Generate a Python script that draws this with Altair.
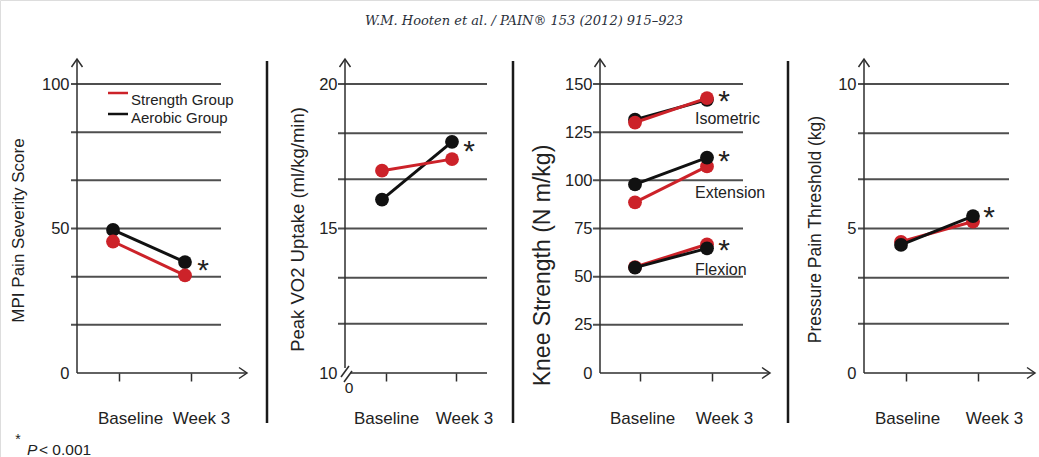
import altair as alt
import pandas as pd

# ---------------- data ----------------
times = ["Baseline", "Week 3"]
groups = ["Strength Group", "Aerobic Group"]
group_colors = ["#cc2229", "#111111"]

mpi_strength = [45.5, 33.8]
mpi_aerobic = [49.5, 38.4]

vo2_strength = [17.0, 17.4]
vo2_aerobic = [16.0, 18.0]

knee_measures = ["Isometric", "Extension", "Flexion"]
knee_iso_strength = [130.0, 142.7]
knee_iso_aerobic = [131.5, 141.8]
knee_ext_strength = [88.6, 107.2]
knee_ext_aerobic = [97.9, 111.8]
knee_flex_strength = [55.0, 66.8]
knee_flex_aerobic = [54.7, 64.7]

ppt_strength = [4.54, 5.24]
ppt_aerobic = [4.43, 5.43]

mpi_labels = [0, 50, 100]
mpi_grid = [16.7, 33.3, 50, 66.7, 83.3, 100]
vo2_labels = [10, 15, 20]
vo2_grid = [11.7, 13.3, 15, 16.7, 18.3, 20]
knee_labels = [0, 25, 50, 75, 100, 125, 150]
knee_grid = [25, 50, 75, 100, 125, 150]
ppt_labels = [0, 5, 10]
ppt_grid = [1.7, 3.3, 5, 6.7, 8.3, 10]

titles = ["MPI Pain Severity Score", "Peak VO2 Uptake (ml/kg/min)",
          "Knee Strength (N m/kg)", "Pressure Pain Threshold (kg)"]
header = "W.M. Hooten et al. / PAIN\u00ae 153 (2012) 915\u2013923"
footnote_p = "P"
footnote_rest = "< 0.001"

# ---------------- build long table ----------------
series = [
    ("mpi", "", "Strength Group", mpi_strength),
    ("mpi", "", "Aerobic Group", mpi_aerobic),
    ("vo2", "", "Strength Group", vo2_strength),
    ("vo2", "", "Aerobic Group", vo2_aerobic),
    ("knee", "Isometric", "Strength Group", knee_iso_strength),
    ("knee", "Isometric", "Aerobic Group", knee_iso_aerobic),
    ("knee", "Extension", "Strength Group", knee_ext_strength),
    ("knee", "Extension", "Aerobic Group", knee_ext_aerobic),
    ("knee", "Flexion", "Strength Group", knee_flex_strength),
    ("knee", "Flexion", "Aerobic Group", knee_flex_aerobic),
    ("ppt", "", "Strength Group", ppt_strength),
    ("ppt", "", "Aerobic Group", ppt_aerobic),
]
# which group is drawn on top
on_top = {("mpi", ""): "Strength Group", ("vo2", ""): "Strength Group",
          ("knee", "Isometric"): "Strength Group", ("knee", "Extension"): "Aerobic Group",
          ("knee", "Flexion"): "Aerobic Group", ("ppt", ""): "Aerobic Group"}
rows = []
for panel, measure, grp, vals in series:
    for t, v in zip(times, vals):
        rows.append(dict(panel=panel, measure=measure, group=grp, time=t, value=v,
                         z=1 if on_top[(panel, measure)] == grp else 0))
df = pd.DataFrame(rows)

# ---------------- layout ----------------
W, H = 1039, 457
Y0, YTOP, YARROW = 373, 84, 59
AX = "#2e2e2e"
GRID = "#4f4f4f"
TXT = "#222222"
FONT = "Liberation Sans"

panels = [
    dict(key="mpi", domain=[0, 100], labels=mpi_labels, grid=mpi_grid, title=titles[0],
         ax=77, gs=71, ge=221, pts=[113, 185], toff=6, loff=[11, 10],
         tx=-59, ty=230, tfs=17),
    dict(key="vo2", domain=[10, 20], labels=vo2_labels, grid=vo2_grid, title=titles[1],
         ax=345, gs=338, ge=487, pts=[382, 452], toff=4, loff=[0, 8],
         tx=-48, ty=229, tfs=18.5),
    dict(key="knee", domain=[0, 150], labels=knee_labels, grid=knee_grid, title=titles[2],
         ax=600, gs=593, ge=743, pts=[635, 707], toff=5, loff=[2, 12],
         tx=-58, ty=265, tfs=23),
    dict(key="ppt", domain=[0, 10], labels=ppt_labels, grid=ppt_grid, title=titles[3],
         ax=864, gs=858, ge=1009, pts=[901, 973], toff=5, loff=[1, 16],
         tx=-49, ty=229, tfs=17.5),
]

color_enc = alt.Color("group:N", scale=alt.Scale(domain=groups, range=group_colors), legend=None)


def panel_units(p):
    yscale = alt.Scale(domain=p["domain"], range=[Y0, YTOP], nice=False, zero=False)
    xscale = alt.Scale(domain=times, range=p["pts"], padding=0)
    yaxis = alt.Axis(orient="left", offset=-p["ax"], values=p["labels"], domain=False,
                     ticks=False, tickSize=0, grid=False, labelPadding=8, labelFontSize=16.5,
                     labelColor=TXT, labelFont=FONT, labelBaseline="middle",
                     title=p["title"], titleX=p["tx"], titleY=p["ty"], titleAngle=270,
                     titleAlign="center", titleBaseline="middle", titleFontSize=p["tfs"],
                     titleFontWeight="normal", titleColor=TXT, titleFont=FONT)
    xaxis = alt.Axis(orient="bottom", offset=Y0 - H, domain=False, ticks=True, tickSize=8,
                     tickWidth=1.5, tickColor=AX, tickOffset=p["toff"],
                     labelOffset={"condition": {"test": f"datum.value == '{times[0]}'",
                                                "value": p["loff"][0]},
                                  "value": p["loff"][1]},
                     labelPadding=29, labelFontSize=17, labelColor=TXT, labelFont=FONT,
                     labelAngle=0, grid=False, title=None)
    gdf = pd.DataFrame({"v": p["grid"]})
    units = [
        alt.Chart(gdf).mark_rule(color=GRID, strokeWidth=2).encode(
            y=alt.Y("v:Q", scale=yscale, axis=yaxis),
            x=alt.value(p["gs"]), x2=alt.value(p["ge"]))
    ]
    sub_all = df[df.panel == p["key"]]
    for z in (0, 1):
        sub = sub_all[sub_all.z == z]
        ye = alt.Y("value:Q", scale=yscale, axis=None)
        units.append(alt.Chart(sub).mark_line(strokeWidth=3).encode(
            x=alt.X("time:N", scale=xscale, axis=None, sort=times),
            y=ye, color=color_enc, detail="measure:N"))
        units.append(alt.Chart(sub).mark_circle(size=190, opacity=1).encode(
            x=alt.X("time:N", scale=xscale, axis=xaxis if z == 1 else None, sort=times),
            y=ye, color=color_enc))
    return units


# ---------------- decorations ----------------
rule_rows = []
for sx in [267, 513, 788]:
    rule_rows.append(dict(x=sx, x2=sx, y=61, y2=423, c="#1a1a1a", w=2.5))
for x, ytop, ybot in [(77, YARROW, Y0), (345, YARROW, 368), (600, YARROW, Y0), (864, YARROW, Y0)]:
    rule_rows.append(dict(x=x, x2=x, y=ytop, y2=ybot, c=AX, w=1.5))
for xa, xb in [(77, 247), (350, 487), (600, 770), (864, 1035)]:
    rule_rows.append(dict(x=xa, x2=xb, y=Y0, y2=Y0, c=AX, w=1.5))
# axis break on the VO2 panel
rule_rows.append(dict(x=341, x2=349, y=377, y2=366, c=AX, w=1.6))
rule_rows.append(dict(x=344, x2=352, y=382, y2=371, c=AX, w=1.6))
# legend swatches
for i, (g, col) in enumerate(zip(groups, group_colors)):
    rule_rows.append(dict(x=108, x2=128, y=93 + 21 * i, y2=93 + 21 * i, c=col, w=2.5))
rules = alt.Chart(pd.DataFrame(rule_rows)).mark_rule().encode(
    x=alt.X("x:Q", scale=None), x2="x2:Q", y=alt.Y("y:Q", scale=None), y2="y2:Q",
    color=alt.Color("c:N", scale=None), strokeWidth=alt.StrokeWidth("w:Q", scale=None))

UP = "M-1,1.45L0,0L1,1.45"
RIGHT = "M-1.45,-1L0,0L-1.45,1"
arrow_rows = [dict(x=x, y=YARROW, s=UP) for x in [77, 345, 600, 864]] + \
             [dict(x=x, y=Y0, s=RIGHT) for x in [247, 770, 1035]]
arrows = alt.Chart(pd.DataFrame(arrow_rows)).mark_point(
    filled=False, color=AX, strokeWidth=1.5, size=121, opacity=1).encode(
    x=alt.X("x:Q", scale=None), y=alt.Y("y:Q", scale=None),
    shape=alt.Shape("s:N", scale=None))


def text_layer(rows, **kw):
    return alt.Chart(pd.DataFrame(rows)).mark_text(baseline="alphabetic", **kw).encode(
        x=alt.X("x:Q", scale=None), y=alt.Y("y:Q", scale=None), text="t:N")


star_centers = [(203, 266), (469, 147), (724, 97), (724, 157), (724, 246), (989, 213)]
stars = text_layer([dict(x=x, y=y + 14, t="*") for x, y in star_centers],
                   font=FONT, fontSize=30, align="center", color=TXT)
measure_txt = text_layer([dict(x=695, y=yb, t=m) for m, yb in zip(knee_measures, [124, 198, 275])],
                         font=FONT, fontSize=16, align="left", color=TXT)
legend_txt = text_layer([dict(x=131, y=yb, t=g) for g, yb in zip(groups, [104.5, 123])],
                        font=FONT, fontSize=15, align="left", color=TXT)
zero_txt = text_layer([dict(x=349, y=393, t="0")], font=FONT, fontSize=15.5,
                      align="center", color=TXT)
header_txt = text_layer([dict(x=524, y=24.5, t=header)], font="DejaVu Serif",
                        fontStyle="italic", fontSize=13, align="center", color="#2a2f3a")
foot_star = text_layer([dict(x=18, y=444, t="*")], font=FONT, fontSize=14,
                       align="center", color=TXT)
foot_p = text_layer([dict(x=27, y=455, t=footnote_p)], font=FONT, fontSize=15.5,
                    fontStyle="italic", align="left", color=TXT)
foot_rest = text_layer([dict(x=39, y=455, t=footnote_rest)], font=FONT, fontSize=15.5,
                       align="left", color=TXT)

units = []
for p in panels:
    units.extend(panel_units(p))

chart = alt.layer(
    *units,
    rules, arrows, stars, measure_txt, legend_txt, zero_txt, header_txt,
    foot_star, foot_p, foot_rest,
).resolve_scale(x="independent", y="independent").resolve_axis(
    x="independent", y="independent"
).properties(
    width=W, height=H, autosize=alt.AutoSizeParams(type="none"), padding=0,
    background="white",
).configure_view(strokeWidth=0).configure(font=FONT)

chart.save("out.html", embed_options={"renderer": "svg", "actions": False})
